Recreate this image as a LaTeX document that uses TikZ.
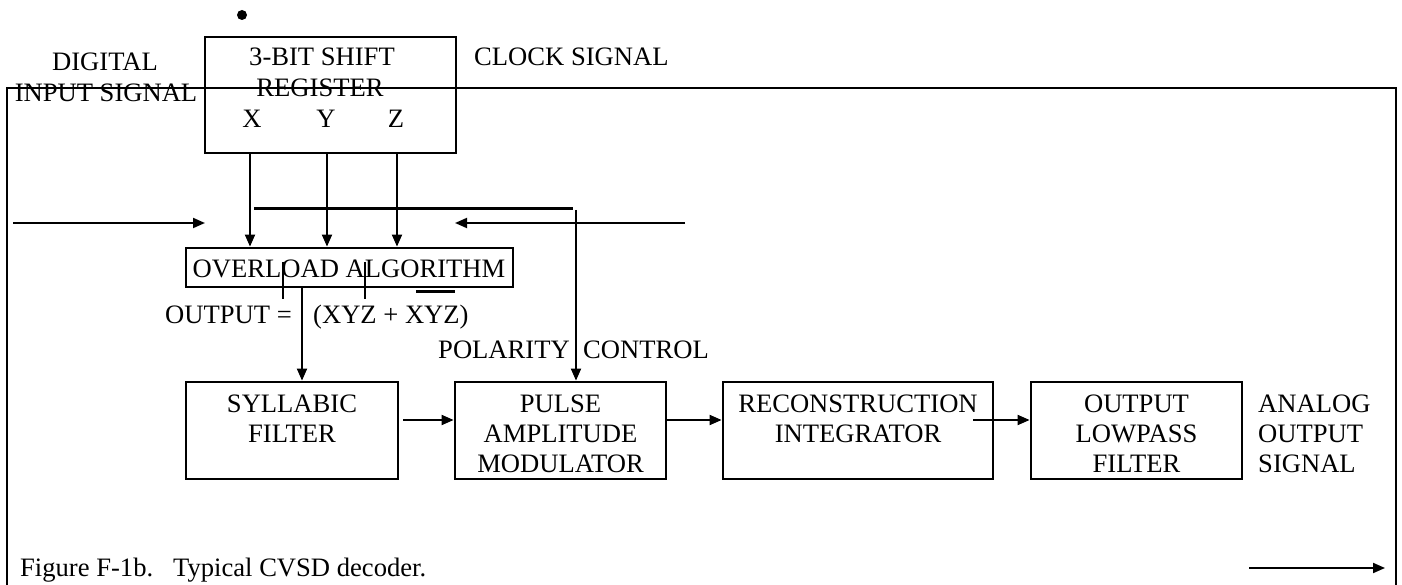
\documentclass[tikz,border=0pt]{standalone}
\usepackage{fontspec}
\setmainfont{Liberation Serif}
\usetikzlibrary{arrows.meta}
\begin{document}
\begin{tikzpicture}[x=1pt,y=-1pt,
  every node/.style={inner sep=0pt, font=\fontsize{26.6}{30}\selectfont},
  blk/.style={draw, line width=2.8pt, minimum height=97pt},
  arr/.style={line width=1.9pt, -{Triangle[length=12pt,width=10pt]}},
  ln/.style={line width=2.2pt},
  thick line/.style={line width=3pt}]
\useasboundingbox (0,0) rectangle (1402,585);
% outer frame (open at the bottom)
\draw[line width=2.8pt] (7,600) -- (7,88) -- (1396,88) -- (1396,600);
% dot
\node[circle, fill, minimum size=10pt] (dot) at (242,15) {};
% blocks
\node[blk, minimum width=251pt, minimum height=116pt] (reg) at (330.5,95) {};
\node[blk, minimum width=327pt, minimum height=39pt] (ovl) at (349.5,267.5) {};
\node[blk, minimum width=212pt] (sf) at (292,430.5) {};
\node[blk, minimum width=211pt] (pam) at (560.5,430.5) {};
\node[blk, minimum width=270pt] (ri) at (858,430.5) {};
\node[blk, minimum width=211pt] (olf) at (1136.5,430.5) {};
% texts
\node[anchor=base] (tdig) at (105,71) {DIGITAL};
\node[anchor=base] (tin) at (106,102) {INPUT SIGNAL};
\node[anchor=base] (t3b) at (322,66) {3-BIT SHIFT};
\node[anchor=base] (treg) at (320,97) {REGISTER};
\node[anchor=base] (tx) at (252,128) {X};
\node[anchor=base] (ty) at (326,128) {Y};
\node[anchor=base] (tz) at (396,128) {Z};
\node[anchor=base west] (tclk) at (474,66) {CLOCK SIGNAL};
\node[anchor=base] (tovl) at (349,277) {OVERLOAD ALGORITHM};
\node[anchor=base east] (tout) at (292,323) {OUTPUT =};
\node[anchor=base west] (texp) at (313,323) {(XYZ + XYZ)};
\node[anchor=base] (tpol) at (504,358) {POLARITY};
\node[anchor=base] (tctl) at (646,358) {CONTROL};
\node[anchor=north, align=center] (tsf) at (292,394.4) {SYLLABIC\\FILTER};
\node[anchor=north, align=center] (tpam) at (560.5,394.4) {PULSE\\AMPLITUDE\\MODULATOR};
\node[anchor=north, align=center] (tri) at (858,394.4) {RECONSTRUCTION\\INTEGRATOR};
\node[anchor=north, align=center] (tolf) at (1136.5,394.4) {OUTPUT\\LOWPASS\\FILTER};
\node[anchor=north west, align=left] (tana) at (1258,394.4) {ANALOG\\OUTPUT\\SIGNAL};
\node[anchor=base west] (tcap) at (20,576) {Figure F-1b.\hspace{20pt}Typical CVSD decoder.};
% helper coordinates
\coordinate (cx) at (250,0);
\coordinate (cy) at (327,0);
\coordinate (cz) at (397,0);
\coordinate (co) at (302,0);
\coordinate (di0) at (13,223);
\coordinate (di1) at (205,223);
\coordinate (ck0) at (685,223);
\coordinate (ck1) at (455,223);
\coordinate (pl) at (254,209);
\coordinate (pr) at (573,209);
\coordinate (pt) at (576,210);
\coordinate (t1a) at (283,262);
\coordinate (t1b) at (283,299);
\coordinate (t2a) at (365,262);
\coordinate (t2b) at (365,299);
\coordinate (ol0) at (416,291);
\coordinate (ol1) at (455,291);
\coordinate (a1) at (403,420);
\coordinate (a3) at (973,420);
\coordinate (b0) at (1249,568);
\coordinate (b1) at (1385,568);
% connectors
\draw[arr] (reg.south -| cx) -- (ovl.north -| cx);
\draw[arr] (reg.south -| cy) -- (ovl.north -| cy);
\draw[arr] (reg.south -| cz) -- (ovl.north -| cz);
\draw[arr] (di0) -- (di1);
\draw[arr] (ck0) -- (ck1);
\draw[thick line] (pl) -- (pr);
\draw[arr] (pt) -- (pam.north -| pt);
\draw[ln] (t1a) -- (t1b);
\draw[ln] (t2a) -- (t2b);
\draw[thick line] (ol0) -- (ol1);
\draw[arr] (ovl.south -| co) -- (sf.north -| co);
\draw[arr] (a1) -- (pam.west |- a1);
\draw[arr] (pam.east |- a1) -- (ri.west |- a1);
\draw[arr] (a3) -- (olf.west |- a3);
\draw[arr] (b0) -- (b1);
\end{tikzpicture}
\end{document}
